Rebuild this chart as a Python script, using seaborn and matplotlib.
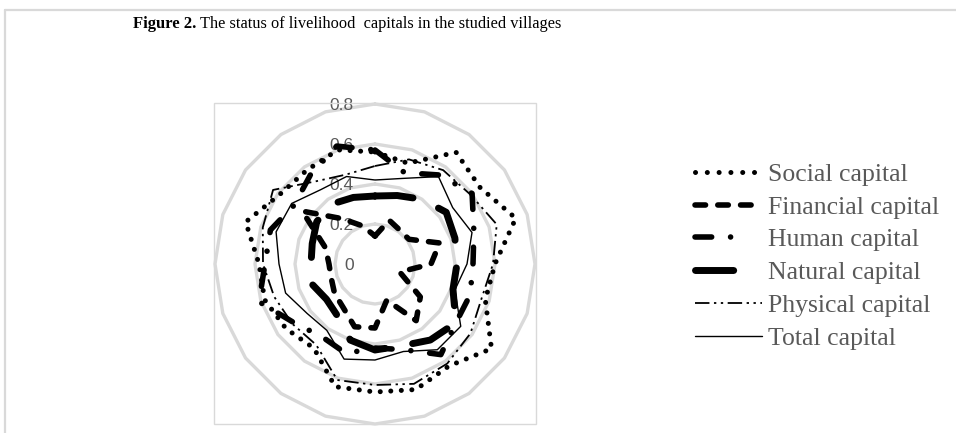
import numpy as np
import matplotlib
matplotlib.use('Agg')
import matplotlib.pyplot as plt
import seaborn as sns
from matplotlib.lines import Line2D
from matplotlib.patches import Rectangle
from matplotlib import transforms

# values per village (20 villages, clockwise from top)
social = [0.56, 0.53, 0.69, 0.65, 0.74, 0.60, 0.58, 0.72, 0.63, 0.66,
          0.64, 0.645, 0.52, 0.55, 0.58, 0.58, 0.68, 0.59, 0.58, 0.60]
financial = [0.14, 0.23, 0.21, 0.21, 0.34, 0.28, 0.13, 0.28, 0.35, 0.19,
             0.32, 0.33, 0.27, 0.25, 0.23, 0.23, 0.26, 0.45, 0.28, 0.20]
human = [0.57, 0.48, 0.55, 0.60, 0.52, 0.49, 0.50, 0.50, 0.56, 0.45,
         0.42, 0.47, 0.45, 0.50, 0.61, 0.55, 0.55, 0.50, 0.55, 0.62]
natural = [0.34, 0.36, 0.40, 0.44, 0.42, 0.41, 0.41, 0.50, 0.47, 0.43,
           0.43, 0.40, 0.32, 0.30, 0.33, 0.32, 0.33, 0.36, 0.37, 0.35]
physical = [0.49, 0.55, 0.58, 0.59, 0.64, 0.59, 0.56, 0.59, 0.615, 0.63,
            0.605, 0.61, 0.50, 0.51, 0.53, 0.56, 0.59, 0.63, 0.51, 0.47]
total = [0.42, 0.45, 0.54, 0.48, 0.51, 0.46, 0.42, 0.53, 0.53, 0.46,
         0.48, 0.50, 0.41, 0.42, 0.47, 0.48, 0.52, 0.515, 0.46, 0.46]

labels = ['Social capital', 'Financial capital', 'Human capital',
          'Natural capital', 'Physical capital', 'Total capital']
ring_levels = [0, 0.2, 0.4, 0.6, 0.8]
ring_labels = ['0', '0.2', '0.4', '0.6', '0.8']

# line look: (linewidth pt, dash in lw units or None, legend dash, capstyle)
styles = [
    (3.6, (0.01, 2.1), (0.01, 2.35), 'round'),
    (4.0, (1.9, 2.2), (1.9, 2.2), 'round'),
    (4.0, (3.0, 3.4, 0.01, 3.4), (3.0, 3.4, 0.01, 20), 'round'),
    (5.0, (5.5, 4.0), (5.5, 20), 'round'),
    (1.3, (8, 2.5, 1.3, 2.5, 1.3, 2.5), (8, 2.5, 1.3, 2.5, 1.3, 2.5), 'butt'),
    (1.0, None, None, 'butt'),
]

sns.set_theme(style='white')
plt.rcParams['font.family'] = ['Liberation Sans', 'DejaVu Sans']

W, H = 956, 433
fig = plt.figure(figsize=(W / 100, H / 100), dpi=100)

# outer chart border (cut at right/bottom)
grey = '#d9d9d9'
fig.add_artist(Line2D([5 / W, 1], [1 - 10 / H, 1 - 10 / H], color=grey, lw=1.6,
                      transform=fig.transFigure))
fig.add_artist(Line2D([5 / W, 5 / W], [0, 1 - 10 / H], color=grey, lw=1.6,
                      transform=fig.transFigure))
# plot area box
fig.add_artist(Rectangle((214 / W, (H - 424) / H), 322 / W, 321 / H, fill=False,
                         ec=grey, lw=1.0, transform=fig.transFigure))

cx, cy, rad = 375, 264, 160
ax = fig.add_axes([(cx - rad) / W, (H - cy - rad) / H, 2 * rad / W, 2 * rad / H],
                  projection='polar')
ax.set_theta_zero_location('N')
ax.set_theta_direction(-1)
ax.set_ylim(0, 0.8)
ax.set_xticks([])
ax.set_yticks([])
ax.grid(False)
ax.spines['polar'].set_visible(False)
ax.patch.set_alpha(0)

n = len(total)
theta = np.linspace(0, 2 * np.pi, n, endpoint=False)
theta_c = np.r_[theta, theta[:1]]

# polygon gridlines
for lv in ring_levels[1:]:
    ax.plot(theta_c, [lv] * (n + 1), color=grey, lw=2.4, zorder=0, clip_on=False)

# ring labels
off = transforms.offset_copy(ax.transData, fig=fig, x=-21, y=-1, units='dots')
for lv, lab in zip(ring_levels, ring_labels):
    ax.text(0, lv, lab, transform=off, ha='right', va='center',
            fontsize=12.5, color='#595959', zorder=1)

series = [social, financial, human, natural, physical, total]
handles = []
for vals, lab, (lw, dash, leg_dash, cap) in zip(series, labels, styles):
    vals_c = np.r_[vals, vals[:1]]
    before = len(ax.lines)
    sns.lineplot(x=theta_c, y=vals_c, ax=ax, color='black', lw=lw, sort=False,
                 estimator=None, legend=False)
    line = ax.lines[before]
    line.set_clip_on(False)
    line.set_zorder(3)
    h = Line2D([], [], color='black', lw=lw)
    if dash is not None:
        line.set_dashes(dash)
        h.set_dashes(leg_dash)
    line.set_dash_capstyle(cap)
    h.set_dash_capstyle(cap)
    line.set_solid_capstyle(cap)
    handles.append(h)

leg = fig.legend(handles, labels, loc='upper left',
                 bbox_to_anchor=(695 / W, 1 - 163 / H), frameon=False,
                 prop={'family': 'Liberation Serif', 'size': 18.5},
                 handlelength=2.6, handletextpad=0.25, labelspacing=0.38,
                 borderpad=0, borderaxespad=0)
for t in leg.get_texts():
    t.set_color('#595959')

# title: bold lead-in + regular rest
t1 = fig.text(133 / W, 1 - 24 / H, 'Figure 2.', fontsize=12, fontweight='bold',
              family='Liberation Serif', va='center', ha='left', color='black')
fig.canvas.draw()
bb = t1.get_window_extent(renderer=fig.canvas.get_renderer())
fig.text((bb.x1 + 4) / W, 1 - 24 / H,
         'The status of livelihood  capitals in the studied villages',
         fontsize=11.8, family='Liberation Serif', va='center', ha='left',
         color='black')

fig.savefig('out.png', dpi=100, facecolor='white')
